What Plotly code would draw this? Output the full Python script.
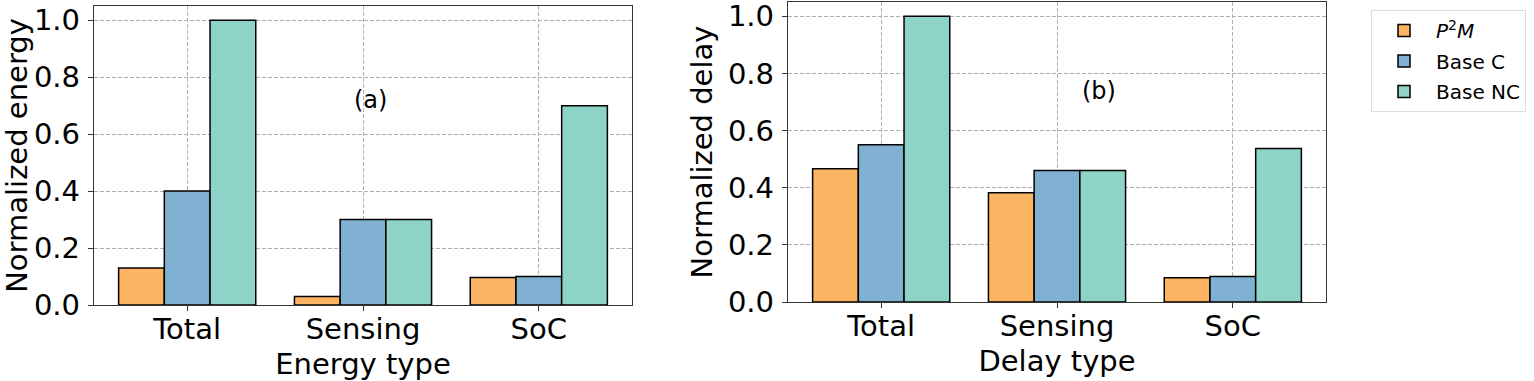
import plotly.graph_objects as go

categories = ["Total", "Sensing", "SoC"]
series_names = ["<i>P</i><sup>2</sup><i>M</i>", "Base C", "Base NC"]
colors = ["#FDB462", "#80B1D3", "#8DD3C7"]

energy_p2m = [0.13, 0.03, 0.097]
energy_basec = [0.40, 0.30, 0.10]
energy_basenc = [1.0, 0.30, 0.70]

delay_p2m = [0.466, 0.382, 0.085]
delay_basec = [0.55, 0.46, 0.089]
delay_basenc = [1.0, 0.46, 0.537]

y_ticks = [0.0, 0.2, 0.4, 0.6, 0.8, 1.0]

FONT = "DejaVu Sans"
W, H = 1534, 381

fig = go.Figure()
energy = [energy_p2m, energy_basec, energy_basenc]
delay = [delay_p2m, delay_basec, delay_basenc]
for i, name in enumerate(series_names):
    fig.add_trace(go.Bar(x=categories, y=energy[i], name=name, marker=dict(color=colors[i], line=dict(color="black", width=1.5)),
                         xaxis="x", yaxis="y", legendgroup=name, showlegend=True))
for i, name in enumerate(series_names):
    fig.add_trace(go.Bar(x=categories, y=delay[i], name=name, marker=dict(color=colors[i], line=dict(color="black", width=1.5)),
                         xaxis="x2", yaxis="y2", legendgroup=name, showlegend=False))

def xaxis(dom, title, anchor):
    return dict(domain=dom, anchor=anchor, range=[-0.53, 2.53], showline=True, mirror=True, linecolor="#333", linewidth=1.3,
                ticks="outside", ticklen=5, tickcolor="#333", showgrid=True, gridcolor="#b0b0b0", griddash="4px,2px", gridwidth=1,
                tickfont=dict(size=29, color="black", family=FONT), zeroline=False, automargin=False,
                ticklabeloverflow="allow", ticklabelstandoff=-7,
                title=dict(text=title, font=dict(size=29, color="black", family=FONT), standoff=8))

def yaxis(dom, title, anchor):
    return dict(domain=dom, anchor=anchor, range=[0, 1.05], showline=True, mirror=True, linecolor="#333", linewidth=1.3,
                ticks="outside", ticklen=5, tickcolor="#333", showgrid=True, gridcolor="#b0b0b0", griddash="4px,2px", gridwidth=1,
                tickvals=y_ticks, ticktext=[f"{v:.1f}" for v in y_ticks], zeroline=False, automargin=False,
                ticklabeloverflow="allow", ticklabelstandoff=2,
                tickfont=dict(size=29, color="black", family=FONT),
                title=dict(text=title, font=dict(size=29, color="black", family=FONT), standoff=6))

fig.update_layout(
    width=W, height=H,
    margin=dict(l=0, r=0, t=0, b=0, autoexpand=False),
    paper_bgcolor="white", plot_bgcolor="white",
    font=dict(family=FONT, color="black"),
    barmode="group", bargap=0.22, bargroupgap=0,
    xaxis=xaxis([94 / W, 632 / W], "Energy type", "y"),
    yaxis=yaxis([1 - 305 / H, 1 - 6 / H], "Normalized energy", "x"),
    xaxis2=xaxis([788 / W, 1326 / W], "Delay type", "y2"),
    yaxis2=yaxis([1 - 302 / H, 1 - 2 / H], "Normalized delay", "x2"),
    legend=dict(x=1371 / W, y=1 - 10 / H, xanchor="left", yanchor="top", bgcolor="white", bordercolor="#dddddd", borderwidth=1,
                font=dict(size=20, color="black", family=FONT), tracegroupgap=1.5, itemwidth=54),
    annotations=[
        dict(text="(a)", x=1.04, y=0.72, xref="x", yref="y", showarrow=False, font=dict(size=24, color="black", family=FONT)),
        dict(text="(b)", x=1.24, y=0.74, xref="x2", yref="y2", showarrow=False, font=dict(size=24, color="black", family=FONT)),
    ],
)

fig.write_html("out.html", config={"displayModeBar": False},
               post_script="document.body.style.margin='0';document.body.style.overflow='hidden';")
